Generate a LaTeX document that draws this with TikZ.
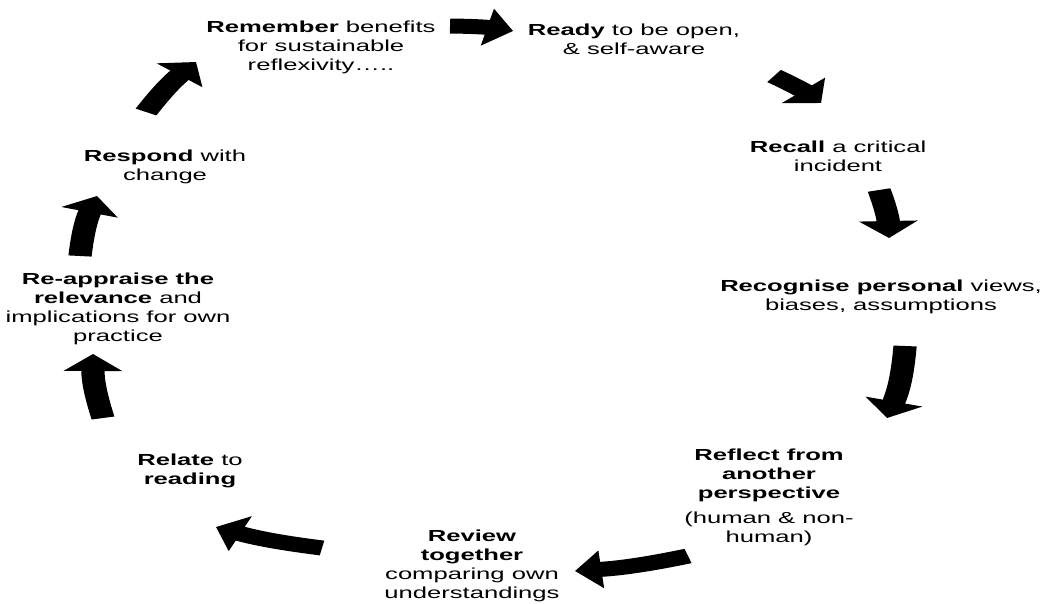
\documentclass[tikz,border=0pt]{standalone}
\usepackage{fontspec}
\setmainfont{Liberation Sans}[FakeStretch=1.6]
\usetikzlibrary{arrows.meta}

\tikzset{
  stage/.style={align=center, anchor=north, inner sep=0pt, font=\fontsize{16}{19}\selectfont},
  cyclearrow/.style={-{Triangle[length=17pt,width=37pt]}, line width=15pt, bend left=6}
}

\begin{document}
\begin{tikzpicture}[x=1pt, y=1pt]
\useasboundingbox (0,0) rectangle (1048,-603);

% the nine stages, clockwise from the top
\node[stage] (remember) at (321,-21) {\textbf{Remember} benefits\\for sustainable\\reflexivity…..};
\node[stage] (ready) at (634,-24) {\textbf{Ready} to be open,\\\& self-aware};
\node[stage] (recall) at (838,-141) {\textbf{Recall} a critical\\incident};
\node[stage] (recognise) at (881,-280) {\textbf{Recognise personal} views,\\biases, assumptions};
\node[stage] (reflect) at (769,-449) {\textbf{Reflect from}\\\textbf{another}\\\textbf{perspective}\\[6pt](human \& non-\\human)};
\node[stage] (review) at (472,-530) {\textbf{Review}\\\textbf{together}\\comparing own\\understandings};
\node[stage] (relate) at (190,-454) {\textbf{Relate} to\\\textbf{reading}};
\node[stage] (reappraise) at (118,-273) {\textbf{Re-appraise the}\\\textbf{relevance} and\\implications for own\\practice};
\node[stage] (respond) at (165,-150) {\textbf{Respond} with\\change};

% block arrows, drawn narrow and stretched like the text
\begin{scope}[x=0.6452pt, transform canvas={xscale=1.55}]
  \coordinate (a1s) at (450,-26);  \coordinate (a1e) at (513,-31);
  \coordinate (a2s) at (774,-76);  \coordinate (a2e) at (821,-103);
  \coordinate (a3s) at (879,-190); \coordinate (a3e) at (889,-238);
  \coordinate (a4s) at (905,-346); \coordinate (a4e) at (887,-418);
  \coordinate (a5s) at (688,-556); \coordinate (a5e) at (575,-571);
  \coordinate (a6s) at (322,-548); \coordinate (a6e) at (216,-527);
  \coordinate (a7s) at (103,-418); \coordinate (a7e) at (93,-354);
  \coordinate (a8s) at (80,-256);  \coordinate (a8e) at (97,-196);
  \coordinate (a9s) at (146,-112); \coordinate (a9e) at (196,-62);
  \foreach \i in {1,...,9}
    \draw[cyclearrow] (a\i s) to (a\i e);
\end{scope}

\end{tikzpicture}
\end{document}
